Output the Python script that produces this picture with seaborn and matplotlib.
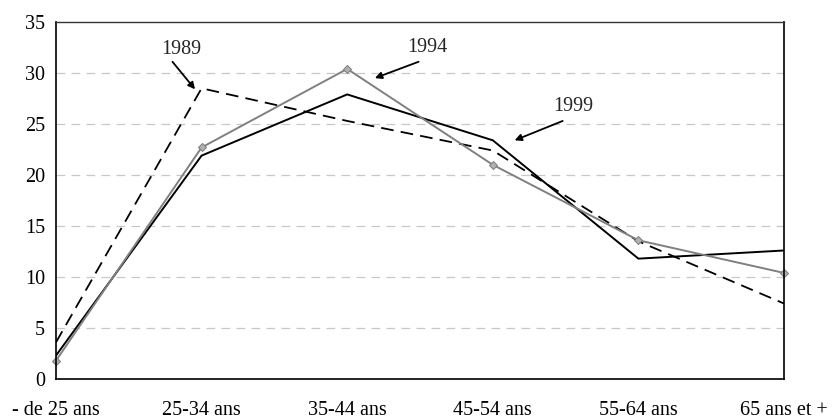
import matplotlib
matplotlib.use("Agg")
import matplotlib.pyplot as plt
import seaborn as sns
import pandas as pd

categories = ["- de 25 ans", "25-34 ans", "35-44 ans", "45-54 ans", "55-64 ans", "65 ans et +"]
v1989 = [3.6, 28.5, 25.3, 22.4, 13.5, 7.4]
v1994 = [1.8, 22.7, 30.4, 21.0, 13.6, 10.4]
v1999 = [2.3, 21.9, 27.9, 23.4, 11.8, 12.6]
yticks = [0, 5, 10, 15, 20, 25, 30, 35]

sns.set_theme(style="white")
plt.rcParams['font.family'] = ['Liberation Serif', 'DejaVu Serif']

pos = list(range(len(categories)))
df = pd.DataFrame({
    "x": pos * 3,
    "v": v1989 + v1994 + v1999,
    "year": ["1989"] * 6 + ["1994"] * 6 + ["1999"] * 6,
})

fig = plt.figure(figsize=(8.36, 4.2), dpi=100)
ax = fig.add_axes([56/836, 1 - 379/420, (784-56)/836, (379-22)/420])

for y in yticks[1:-1]:
    ax.axhline(y, color="#c8c8c8", lw=0.9, ls=(0, (7, 5)), zorder=0)

sns.lineplot(data=df[df.year == "1989"], x="x", y="v", ax=ax, color="black",
             lw=1.3, dashes=False, linestyle=(0, (7, 4)), legend=False)
sns.lineplot(data=df[df.year == "1999"], x="x", y="v", ax=ax, color="black",
             lw=1.4, legend=False)
sns.lineplot(data=df[df.year == "1994"], x="x", y="v", ax=ax, color="#808080",
             lw=1.4, marker="D", markersize=4, markerfacecolor="#b0b0b0",
             markeredgecolor="#808080", legend=False, clip_on=False)

ax.set_xlim(0, len(categories) - 1)
ax.set_ylim(0, 35)
ax.set_yticks(yticks)
ax.set_xticks(pos)
ax.set_xticklabels(categories)
ax.set_xlabel("")
ax.set_ylabel("")
ax.tick_params(axis="both", labelsize=14.5, colors="black", direction="out", length=5, width=1)
ax.tick_params(axis="x", pad=11)
ax.tick_params(axis="y", pad=3)
for side in ["left", "bottom", "right"]:
    ax.spines[side].set_color("black")
    ax.spines[side].set_linewidth(1.2)
ax.spines["top"].set_color("#333333")
ax.spines["top"].set_linewidth(1.0)
ax.set_facecolor("white")

arrow = dict(arrowstyle="-|>", color="black", lw=1.3, mutation_scale=10, shrinkA=0, shrinkB=0)
labels = [("1989", (0.86, 32.3), (0.80, 31.1), (0.955, 28.4)),
          ("1994", (2.55, 32.5), (2.49, 31.1), (2.19, 29.5)),
          ("1999", (3.55, 26.7), (3.48, 25.3), (3.15, 23.4))]
for txt, tpos, start, end in labels:
    ax.text(tpos[0], tpos[1], txt, fontsize=14.5, ha="center", va="center")
    ax.annotate("", xy=end, xytext=start, arrowprops=arrow)

fig.savefig("out.png", dpi=100)
